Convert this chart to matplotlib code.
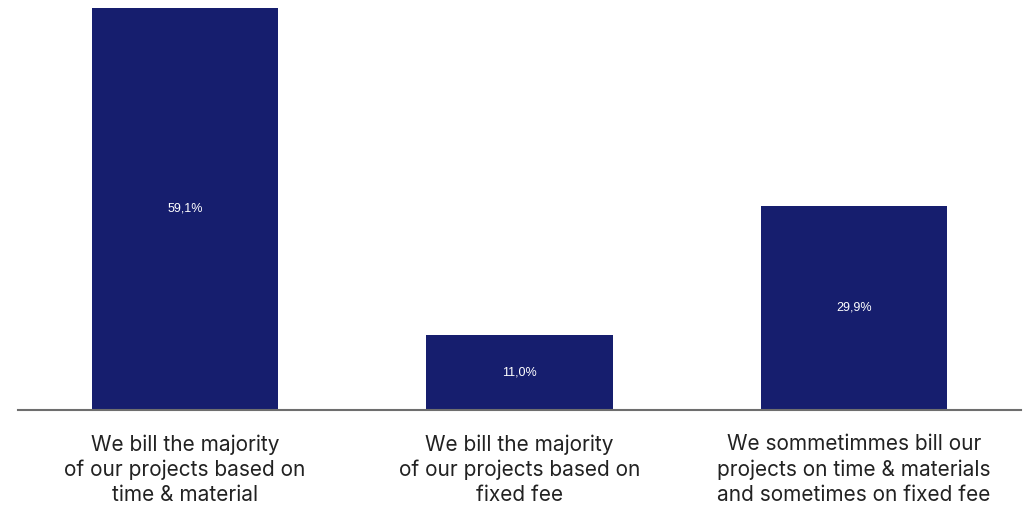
import matplotlib.pyplot as plt

categories = [
    "We bill the majority\nof our projects based on\ntime & material",
    "We bill the majority\nof our projects based on\nfixed fee",
    "We sommetimmes bill our\nprojects on time & materials\nand sometimes on fixed fee",
]
shares = [59.1, 11.0, 29.9]
value_labels = ["59,1%", "11,0%", "29,9%"]

bar_color = "#161e6e"

fig = plt.figure(figsize=(10.29, 5.12), dpi=100)
ax = fig.add_axes([18 / 1029, (512 - 409.5) / 512, 1003 / 1029, 409.5 / 512])

x = range(len(shares))
bars = ax.bar(x, shares, width=0.557, color=bar_color, zorder=2)
ax.set_xlim(-0.5, 2.5)
ax.set_ylim(0, 59.1 * 409.5 / 401.5)

# percentage written in the middle of each bar
for rect, lab in zip(bars, value_labels):
    ax.text(rect.get_x() + rect.get_width() / 2, rect.get_height() / 2, lab,
            ha="center", va="center", color="white", fontsize=9,
            family="Liberation Sans")

ax.set_xticks(list(x))
ax.set_xticklabels(categories, fontsize=15, family="Inter",
                   color="#222222", linespacing=1.3)
ax.tick_params(axis="x", length=0, pad=18)
ax.set_yticks([])

for side in ["top", "left", "right"]:
    ax.spines[side].set_visible(False)
ax.spines["bottom"].set_color("#6e6e6e")
ax.spines["bottom"].set_linewidth(1.5)

fig.savefig("out.png", dpi=100)
